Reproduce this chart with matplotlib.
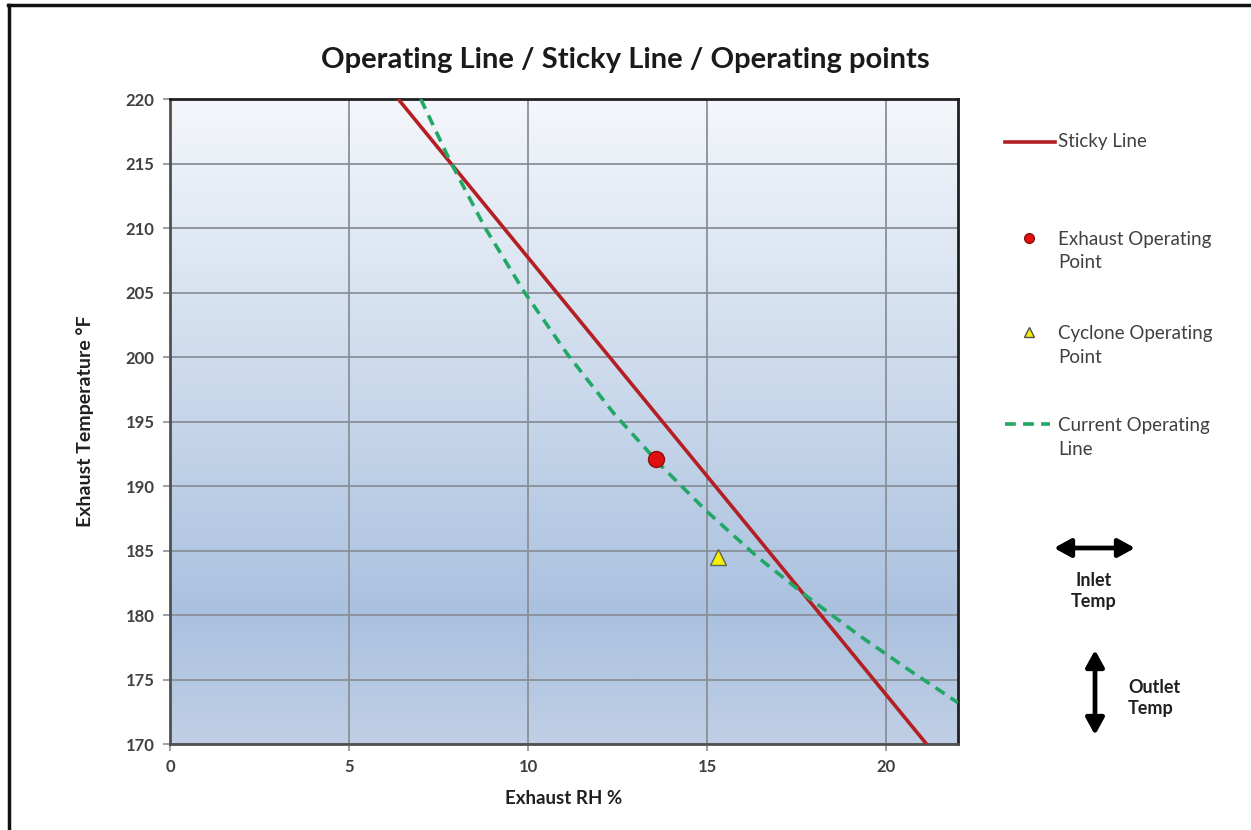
import numpy as np
import matplotlib
matplotlib.use("Agg")
import matplotlib.pyplot as plt
from matplotlib.lines import Line2D
from matplotlib.colors import LinearSegmentedColormap

plt.rcParams['font.family'] = ['Lato', 'DejaVu Sans']

# ---------------------------------------------------------------------------
# data
# ---------------------------------------------------------------------------
sticky_rh = [6.37, 21.12]
sticky_temp = [220.0, 170.0]

current_rh = [7.0, 7.8, 8.8, 9.9, 11.1, 12.4, 13.7, 15.0, 16.4, 17.8, 19.3, 20.6, 22.0]
current_temp = [220.0, 215.3, 210.0, 205.0, 200.2, 195.6, 191.6, 188.0, 184.5, 181.4, 178.3, 175.8, 173.2]

exhaust_point = (13.57, 192.07)
cyclone_point = (15.29, 184.5)

x_ticks = [0, 5, 10, 15, 20]
y_ticks = [170, 175, 180, 185, 190, 195, 200, 205, 210, 215, 220]

RED = '#b41f24'
GREEN = '#22a866'
TXT = '#404040'

fig = plt.figure(figsize=(12.51, 8.30), dpi=100)
fig.patch.set_facecolor('white')
ax = fig.add_axes([0.1359, 0.1036, 0.6299, 0.7771])

# gradient plot background
grad = LinearSegmentedColormap.from_list(
    'bg', [(0.0, '#c0cfe5'), (0.2, '#aac1df'), (1.0, '#f4f7fb')])
ax.imshow(np.linspace(0, 1, 256).reshape(-1, 1), cmap=grad, aspect='auto',
          extent=[0, 22, 170, 220], origin='lower', zorder=0, interpolation='bicubic')

ax.plot(sticky_rh, sticky_temp, color=RED, lw=2.6, zorder=3, solid_capstyle='butt')
ax.plot(current_rh, current_temp, color=GREEN, lw=2.6, ls=(0, (3, 2)), zorder=3)
ax.plot(*exhaust_point, marker='o', ms=11.5, mfc='#e01010', mec='#8a1010', mew=1.0, zorder=4)
ax.plot(*cyclone_point, marker='^', ms=12, mfc='#f4f000', mec='#606060', mew=1.0, zorder=4)

ax.set_xlim(0, 22)
ax.set_ylim(170, 220)
ax.set_xticks(x_ticks)
ax.set_yticks(y_ticks)
ax.grid(True, color='#8a9099', lw=1.3)
ax.set_axisbelow(True)
ax.tick_params(axis='both', length=5, width=1.2, color='#8a9099', labelcolor=TXT, pad=6,
               labelsize=12)
for lab in ax.get_xticklabels() + ax.get_yticklabels():
    lab.set_fontweight('bold')
ax.spines['left'].set_color('#505050')
ax.spines['bottom'].set_color('#505050')
ax.spines['top'].set_color('#202020')
ax.spines['right'].set_color('#202020')
for sp in ax.spines.values():
    sp.set_linewidth(2.0)

ax.set_xlabel('Exhaust RH %', fontsize=13.5, fontweight='bold', color='#202020')
ax.xaxis.set_label_coords(0.5, -0.072)
ax.set_ylabel('Exhaust Temperature °F', fontsize=14, fontweight='bold', color='#202020')
ax.yaxis.set_label_coords(-0.097, 0.5)

fig.text(0.4995, 0.928, 'Operating Line / Sticky Line / Operating points',
         ha='center', va='center', fontsize=21, fontweight='bold', color='#1a1a1a')

# manual legend on the right
W, H = 1251.0, 830.0
def fx(px): return px / W
def fy(py): return 1 - py / H

fig.add_artist(Line2D([fx(1005), fx(1055)], [fy(142), fy(142)], color=RED, lw=2.6))
fig.add_artist(Line2D([fx(1029)], [fy(238)], marker='o', ms=7, mfc='#e01010', mec='#8a1010', lw=0))
fig.add_artist(Line2D([fx(1029)], [fy(332)], marker='^', ms=7, mfc='#f4f000', mec='#505050', lw=0))
fig.add_artist(Line2D([fx(1005), fx(1050)], [fy(424), fy(424)], color=GREEN, lw=2.6,
                      ls=(0, (3, 2))))

leg_kw = dict(ha='left', va='center', fontsize=13.5, color=TXT, linespacing=1.5)
fig.text(fx(1058), fy(142), 'Sticky Line', **leg_kw)
fig.text(fx(1058), fy(251), 'Exhaust Operating\nPoint', **leg_kw)
fig.text(fx(1058), fy(345), 'Cyclone Operating\nPoint', **leg_kw)
fig.text(fx(1058), fy(437), 'Current Operating\nLine', **leg_kw)

# inlet / outlet arrows
arrow_kw = dict(arrowstyle='<|-|>,head_length=1.0,head_width=0.55', color='black', lw=3.4,
                shrinkA=0, shrinkB=0)
ax.annotate('', xy=(fx(1135), fy(548)), xytext=(fx(1054), fy(548)),
            xycoords='figure fraction', textcoords='figure fraction', arrowprops=arrow_kw,
            annotation_clip=False)
ax.annotate('', xy=(fx(1095), fy(650)), xytext=(fx(1095), fy(735)),
            xycoords='figure fraction', textcoords='figure fraction', arrowprops=arrow_kw,
            annotation_clip=False)
fig.text(fx(1094), fy(591), 'Inlet\nTemp', ha='center', va='center', fontsize=13,
         fontweight='bold', color='#202020', linespacing=1.25)
fig.text(fx(1128), fy(698), 'Outlet\nTemp', ha='left', va='center', fontsize=13,
         fontweight='bold', color='#202020', linespacing=1.25)

# partial frame around the picture (top and left edges)
fig.add_artist(Line2D([fx(8), 1.0], [fy(5), fy(5)], color='#111111', lw=2.5))
fig.add_artist(Line2D([fx(9), fx(9)], [fy(5), 0.0], color='#111111', lw=2.5))

fig.savefig('out.png', dpi=100, facecolor='white')
